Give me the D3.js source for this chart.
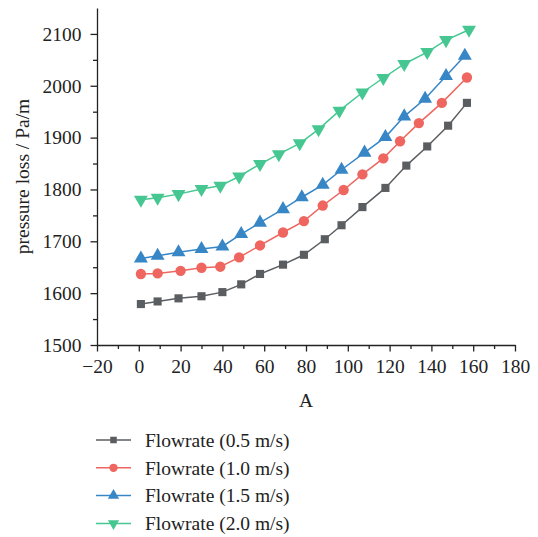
<!DOCTYPE html>
<html lang="en">
<head>
<meta charset="UTF-8">
<title>Pressure loss vs A</title>
<script src="https://cdnjs.cloudflare.com/ajax/libs/d3/7.8.5/d3.min.js"></script>
<style>
  body { margin: 0; background: #fff; }
  svg { display: block; font-family: "Liberation Serif", "Times New Roman", serif; }
  .axis path, .axis line { stroke: #222; stroke-width: 1.3; }
  .axis text { font-size: 19.5px; fill: #222; font-family: "Liberation Serif", serif; }
</style>
</head>
<body>
<div id="chart"></div>
<script>
// values
const seriesNames = ["Flowrate (0.5 m/s)", "Flowrate (1.0 m/s)", "Flowrate (1.5 m/s)", "Flowrate (2.0 m/s)"];
const xGray  = [1, 9, 19, 30, 40, 49, 58, 69, 79, 89, 97, 107, 118, 128, 138, 148, 157];
const yGray  = [1579, 1584, 1590, 1594, 1602, 1617, 1637, 1655, 1674, 1704, 1731, 1766, 1803, 1846, 1883, 1923, 1967];
const xRed   = [1, 9, 20, 30, 39, 48, 58, 69, 79, 88, 98, 107, 117, 125, 134, 145, 157];
const yRed   = [1637, 1638, 1643, 1649, 1651, 1669, 1692, 1717, 1739, 1769, 1799, 1829, 1860, 1893, 1928, 1967, 2016];
const xBlue  = [1, 9, 19, 30, 40, 49, 58, 69, 78, 88, 97, 108, 118, 127, 137, 147, 156];
const yBlue  = [1667, 1672, 1679, 1685, 1690, 1714, 1736, 1762, 1785, 1809, 1838, 1871, 1901, 1941, 1975, 2019, 2058];
const xGreen = [1, 9, 19, 30, 39, 48, 58, 67, 77, 86, 96, 107, 117, 127, 138, 147, 158];
const yGreen = [1780, 1784, 1791, 1801, 1807, 1825, 1849, 1868, 1889, 1916, 1952, 1987, 2015, 2042, 2065, 2088, 2108];
const xTicks = [-20, 0, 20, 40, 60, 80, 100, 120, 140, 160, 180];
const yTicks = [1500, 1600, 1700, 1800, 1900, 2000, 2100];

const colors  = ["#5b5e61", "#ee665f", "#3786c6", "#46c792"];
const symbols = [d3.symbolSquare, d3.symbolCircle, d3.symbolTriangle, d3.symbolTriangle];
const rotate  = [0, 0, 0, 180];
const sizes   = [66, 84, 84, 84];

const series = [[xGray, yGray], [xRed, yRed], [xBlue, yBlue], [xGreen, yGreen]].map((s, i) => ({
  name: seriesNames[i],
  points: s[0].map((x, j) => ({ x: x, y: s[1][j] }))
}));

const W = 538, H = 537;
const m = { left: 97, top: 8, right: 23, bottom: 192 };
const w = W - m.left - m.right, h = H - m.top - m.bottom;

const svg = d3.select("#chart").append("svg").attr("width", W).attr("height", H);
const g = svg.append("g").attr("transform", `translate(${m.left},${m.top})`);

const x = d3.scaleLinear().domain([-20, 180]).range([0, w]);
const y = d3.scaleLinear().domain([1500, 2150]).range([h, 0]);

// minor ticks
g.append("g").attr("class", "axis").attr("transform", `translate(0,${h})`)
  .call(d3.axisBottom(x).tickValues(d3.range(-10, 180, 20)).tickSize(4).tickFormat(""))
  .select(".domain").remove();
g.append("g").attr("class", "axis")
  .call(d3.axisLeft(y).tickValues(d3.range(1550, 2150, 100)).tickSize(4).tickFormat(""))
  .select(".domain").remove();

// major axes
g.append("g").attr("class", "axis").attr("transform", `translate(0,${h})`)
  .call(d3.axisBottom(x).tickValues(xTicks).tickSize(6.5).tickSizeOuter(0).tickPadding(8)
    .tickFormat(d => d < 0 ? "\u2212" + Math.abs(d) : d));
g.append("g").attr("class", "axis")
  .call(d3.axisLeft(y).tickValues(yTicks).tickSize(6.5).tickSizeOuter(0).tickPadding(9)
    .tickFormat(d3.format("d")));

// axis titles
svg.append("text").attr("x", m.left + x(80)).attr("y", 407)
  .attr("text-anchor", "middle").attr("font-size", 19.5).attr("fill", "#222").text("A");
svg.append("text").attr("transform", `translate(29,${m.top + h / 2}) rotate(-90)`)
  .attr("text-anchor", "middle").attr("font-size", 19.5).attr("fill", "#222")
  .text("pressure loss / Pa/m");

const line = d3.line().x(d => x(d.x)).y(d => y(d.y));

series.forEach((s, i) => {
  g.append("path").datum(s.points).attr("d", line)
    .attr("fill", "none").attr("stroke", colors[i]).attr("stroke-width", 1.5);
  g.selectAll(".pt" + i).data(s.points).join("path")
    .attr("class", "pt" + i)
    .attr("d", d3.symbol().type(symbols[i]).size(sizes[i]))
    .attr("transform", d => `translate(${x(d.x)},${y(d.y)}) rotate(${rotate[i]})`)
    .attr("fill", colors[i]);
});

// legend
const leg = svg.append("g").attr("transform", "translate(96,440)");
series.forEach((s, i) => {
  const row = leg.append("g").attr("transform", `translate(0,${i * 27.8})`);
  row.append("line").attr("x1", 0).attr("x2", 35).attr("y1", 0).attr("y2", 0)
    .attr("stroke", colors[i]).attr("stroke-width", 1.5);
  row.append("path").attr("d", d3.symbol().type(symbols[i]).size(sizes[i] * 0.65))
    .attr("transform", `translate(17.5,0) rotate(${rotate[i]})`).attr("fill", colors[i]);
  row.append("text").attr("x", 49).attr("y", 0).attr("dy", "0.35em")
    .attr("font-size", 19.5).attr("fill", "#222").text(s.name);
});
</script>
</body>
</html>
